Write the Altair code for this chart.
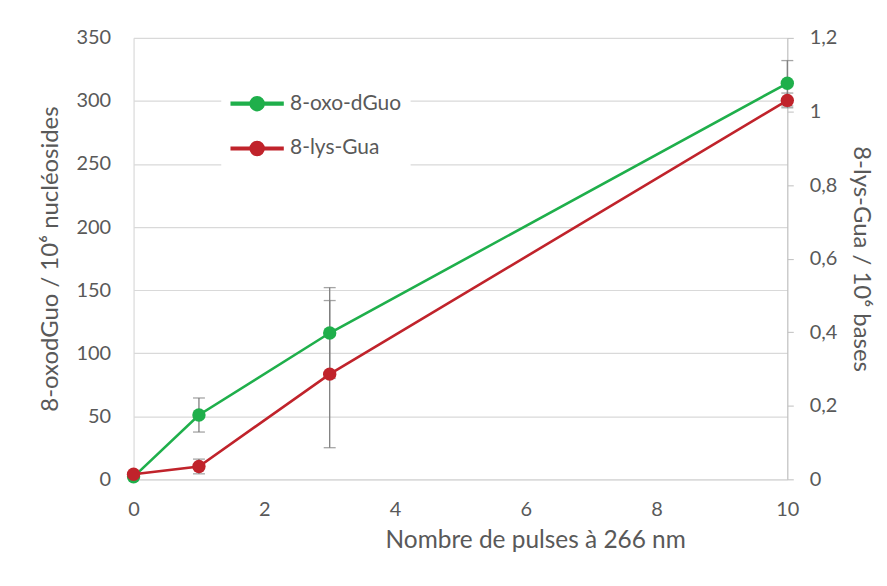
import altair as alt
import pandas as pd

# ---- data ----
pulses = [0, 1, 3, 10]
oxo_values = [2, 51, 116, 314]          # 8-oxo-dGuo / 10^6 nucleosides (left axis)
oxo_errors = [0, 13.5, 36, 18]
lys_values = [0.014, 0.035, 0.286, 1.03]  # 8-lys-Gua / 10^6 bases (right axis)
lys_errors = [0, 0.02, 0.2, 0.02]
series_names = ["8-oxo-dGuo", "8-lys-Gua"]
x_ticks = [0, 2, 4, 6, 8, 10]
left_ticks = [0, 50, 100, 150, 200, 250, 300, 350]
right_ticks = [0, 0.2, 0.4, 0.6, 0.8, 1.0, 1.2]

GREEN = "#1FAF4B"
RED = "#C0232B"
TXT = "#595959"
GRID = "#D9D9D9"
ERR = "#7F7F7F"
FONT = "Lato"

df_oxo = pd.DataFrame({
    "x": pulses, "y": oxo_values, "err": oxo_errors,
    "lo": [v - e for v, e in zip(oxo_values, oxo_errors)],
    "hi": [v + e for v, e in zip(oxo_values, oxo_errors)],
    "series": series_names[0],
})
df_lys = pd.DataFrame({
    "x": pulses, "y": lys_values, "err": lys_errors,
    "lo": [v - e for v, e in zip(lys_values, lys_errors)],
    "hi": [v + e for v, e in zip(lys_values, lys_errors)],
    "series": series_names[1],
})

x_enc = alt.X(
    "x:Q",
    scale=alt.Scale(domain=[0, 10], nice=False, zero=False),
    axis=alt.Axis(values=x_ticks, grid=False, ticks=False, domain=True,
                  domainColor=GRID, domainWidth=1.2, labelPadding=20,
                  labelFlush=False,
                  title="Nombre de pulses à 266 nm", titlePadding=9,
                  titleFontSize=24.5, titleX=403, titleAlign="center"),
)

left_scale = alt.Scale(domain=[0, 350], nice=False, zero=False)
right_scale = alt.Scale(domain=[0, 1.2], nice=False, zero=False)

left_axis = alt.Axis(values=left_ticks, grid=True, gridColor=GRID, gridWidth=1.2,
                     ticks=False, domain=True, domainColor=GRID, domainWidth=1.2,
                     labelPadding=23, orient="left", titleFontSize=24,
                     labelFlush=False,
                     title="8-oxodGuo / 10⁶ nucléosides", titlePadding=14)
right_axis = alt.Axis(values=right_ticks, grid=False, ticks=True, tickSize=6,
                      tickColor="#BFBFBF", domain=True, domainColor="#BFBFBF",
                      domainWidth=1.2, labelPadding=16, orient="right",
                      labelFlush=False,
                      labelExpr="replace(format(datum.value, '~g'), '.', ',')",
                      title="8-lys-Gua / 10⁶ bases", titlePadding=12,
                      titleFontSize=24)

symbol_path = ("M-1,-0.05L-0.2,-0.05L-0.2,0.05L-1,0.05Z "
               "M0.2,-0.05L1,-0.05L1,0.05L0.2,0.05Z "
               "M0.27,0A0.27,0.27,0,1,1,-0.27,0A0.27,0.27,0,1,1,0.27,0Z")

color_legend = alt.Legend(
    title=None, orient="none", legendX=88, legendY=30,
    fillColor="white", padding=9, symbolType=symbol_path, symbolSize=2704,
    labelOffset=6, rowPadding=7,
    labelFontSize=21, labelFont=FONT, labelColor=TXT,
)
color_scale = alt.Scale(domain=series_names, range=[GREEN, RED])
color_enc = alt.Color("series:N", scale=color_scale, legend=color_legend)


def error_layer(df, scale, axis):
    base = alt.Chart(df).transform_filter("datum.err > 0")
    rule = base.mark_rule(color=ERR, strokeWidth=1.3).encode(
        x=x_enc, y=alt.Y("lo:Q", scale=scale, axis=axis), y2="hi:Q")
    cap_lo = base.mark_tick(color=ERR, orient="horizontal", size=12, thickness=1.3).encode(
        x=x_enc, y=alt.Y("lo:Q", scale=scale, axis=axis))
    cap_hi = base.mark_tick(color=ERR, orient="horizontal", size=12, thickness=1.3).encode(
        x=x_enc, y=alt.Y("hi:Q", scale=scale, axis=axis))
    return alt.layer(rule, cap_lo, cap_hi)


def main_layer(df, scale):
    base = alt.Chart(df)
    line = base.mark_line(strokeWidth=2.6, opacity=1).encode(
        x=x_enc, y=alt.Y("y:Q", scale=scale, axis=None), color=color_enc)
    pts = base.mark_point(filled=True, size=180, opacity=1).encode(
        x=x_enc, y=alt.Y("y:Q", scale=scale, axis=None), color=color_enc)
    return alt.layer(line, pts)


chart = alt.layer(
    error_layer(df_oxo, left_scale, left_axis),
    error_layer(df_lys, right_scale, right_axis),
    main_layer(df_oxo, left_scale),
    main_layer(df_lys, right_scale),
).resolve_scale(y="independent").properties(
    width=656, height=443,
    autosize=alt.AutoSizeParams(type="none"),
    padding={"left": 126, "top": 29, "right": 92, "bottom": 90},
).configure_view(stroke=None).configure_axis(
    labelFont=FONT, labelFontSize=20, labelColor=TXT,
    titleFont=FONT, titleColor=TXT, titleFontWeight="normal",
)

chart.save("out.html", embed_options={"renderer": "svg", "actions": False})
